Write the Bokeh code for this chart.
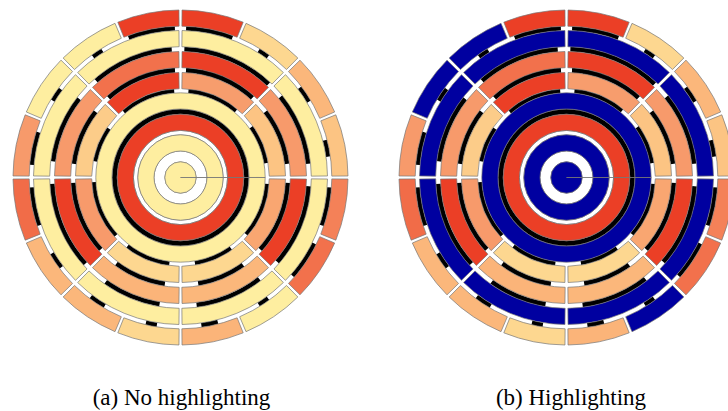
import math
from bokeh.plotting import figure
from bokeh.models import Range1d, ColumnDataSource
from bokeh.core.properties import value
from bokeh.embed import file_html
from bokeh.resources import INLINE

# ---------------- data (nodes listed counter-clockwise starting at east) ----------------
# colour value: 0 = pale yellow ... 1 = red ; bar = length of the black bar under each node (fraction)
L0_value = [0.0]
L0_bar = [0.0]
L1_value = [0.0]
L1_bar = [0.0]
L2_value = [1.0]
L2_bar = [0.0]
L3_value = [0.0]
L3_bar = [1.0]
L4_value = [0.32, 0.58, 1.0, 0.27, 0.6, 0.2, 0.2, 0.52]
L4_bar = [0.6, 0.8, 0.85, 0.55, 0.9, 0.7, 0.6, 0.85]
L5_value = [0.6, 1.0, 0.8, 0.6, 1.0, 0.42, 0.4, 1.0]
L5_bar = [0.7, 0.9, 0.9, 0.7, 0.9, 0.65, 0.6, 0.9]
L6_value = [0.0, 0.0, 0.0, 0.0, 0.0, 0.0, 0.0, 0.0]
L6_bar = [0.75, 0.95, 0.85, 0.7, 0.9, 0.6, 0.7, 0.85]
L7_value = [0.32, 0.4, 0.2, 1.0, 1.0, 0.0, 0.0, 0.6,
            0.82, 0.4, 0.4, 0.2, 0.42, 0.0, 0.8, 0.72]
L7_bar = [0.3, 0.3, 0.2, 0.85, 0.85, 0.2, 0.25, 0.6,
          0.7, 0.3, 0.3, 0.2, 0.3, 0.2, 0.7, 0.7]

captions = ["(a) No highlighting", "(b) Highlighting"]
highlight_threshold = 0.05   # nodes with value below this are highlighted in (b)

levels_value = [L0_value, L1_value, L2_value, L3_value, L4_value, L5_value, L6_value, L7_value]
levels_bar = [L0_bar, L1_bar, L2_bar, L3_bar, L4_bar, L5_bar, L6_bar, L7_bar]

# ---------------- styling / layout ----------------
ring_outer = [15.7, 42.7, 63.3, 84.7, 105.0, 126.0, 147.0, 167.5]
ring_width = 16.2
gap_px = 2.9
centers = [0.0, 386.0]
caption_x = [1.0, 390.5]
caption_y = -220.0
stops = [(0.0, (254, 238, 160)), (0.2, (253, 215, 144)), (0.4, (251, 183, 123)),
         (0.6, (247, 154, 107)), (0.8, (242, 113, 76)), (1.0, (235, 63, 38))]
BLUE = "#0000A0"
OUTLINE = "#777777"


def colour(v):
    for (a, ca), (b, cb) in zip(stops[:-1], stops[1:]):
        if v <= b:
            t = 0 if b == a else (v - a) / (b - a)
            c = [round(ca[i] + (cb[i] - ca[i]) * t) for i in range(3)]
            return "#%02x%02x%02x" % tuple(c)
    return "#%02x%02x%02x" % stops[-1][1]


W, H = 728, 411
p = figure(width=W, height=H, output_backend="svg", toolbar_location=None,
           x_range=Range1d(-180, -180 + W), y_range=Range1d(177 - H, 177),
           min_border=0, outline_line_color=None)
p.axis.visible = False
p.grid.visible = False
p.background_fill_color = "white"

for ci, cx in enumerate(centers):
    highlight = ci == 1
    ring = dict(x=[], y=[], ri=[], ro=[], sa=[], ea=[], col=[])
    band_full = dict(x=[], y=[], ri=[], ro=[], sa=[], ea=[], col=[])
    bars = dict(x=[], y=[], ri=[], ro=[], sa=[], ea=[])
    for k, (vals, barf) in enumerate(zip(levels_value, levels_bar)):
        n = len(vals)
        span = 2 * math.pi / n
        ro = ring_outer[k]
        ri = 0.0 if k == 0 else ro - ring_width
        bi = 0.0 if k == 0 else ring_outer[k - 1]
        bo = ri
        for j, (v, f) in enumerate(zip(vals, barf)):
            col = BLUE if (highlight and v < highlight_threshold) else colour(v)
            if n == 1:
                sa, ea = 0.0, 2 * math.pi
            else:
                pad = (gap_px / 2) / ((ri + ro) / 2)
                sa, ea = j * span + pad, (j + 1) * span - pad
            for key, val in zip(["x", "y", "ri", "ro", "sa", "ea", "col"], [cx, 0.0, ri, ro, sa, ea, col]):
                ring[key].append(val)
            if k == 0:
                continue
            if n == 1:
                for key, val in zip(["x", "y", "ri", "ro", "sa", "ea", "col"],
                                    [cx, 0.0, bi, bo, 0.0, 2 * math.pi, "black" if f >= 1 else "white"]):
                    band_full[key].append(val)
            elif f > 0:
                mid = (j + 0.5) * span
                half = f * (span / 2 - (gap_px / 2) / bo)
                for key, val in zip(["x", "y", "ri", "ro", "sa", "ea"], [cx, 0.0, bi, bo, mid - half, mid + half]):
                    bars[key].append(val)
    p.annular_wedge(x="x", y="y", inner_radius="ri", outer_radius="ro", start_angle="sa", end_angle="ea",
                    fill_color="col", line_color=OUTLINE, line_width=0.7, source=ColumnDataSource(band_full))
    p.annular_wedge(x="x", y="y", inner_radius="ri", outer_radius="ro", start_angle="sa", end_angle="ea",
                    fill_color="black", line_color=None, source=ColumnDataSource(bars))
    p.annular_wedge(x="x", y="y", inner_radius="ri", outer_radius="ro", start_angle="sa", end_angle="ea",
                    fill_color="col", line_color=OUTLINE, line_width=0.7, source=ColumnDataSource(ring))

p.text(x=caption_x, y=[caption_y, caption_y], text=captions,
       text_font=value("Liberation Serif"), text_font_size="23px", text_align="center",
       text_baseline="alphabetic", text_color="black")

open("out.html", "w").write(file_html(p, INLINE))
